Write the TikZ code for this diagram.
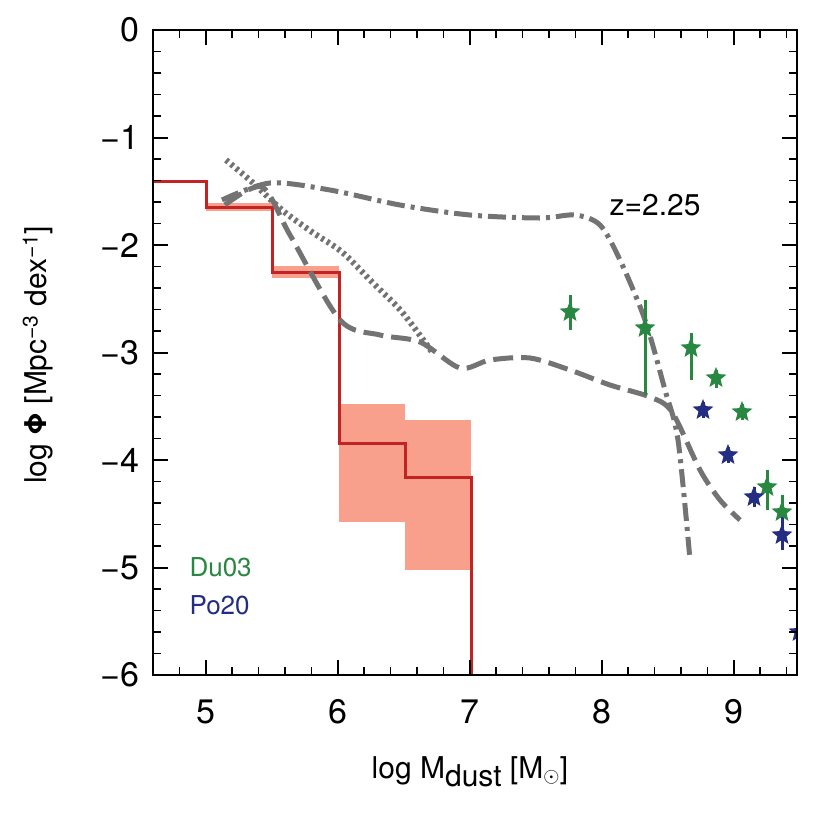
\documentclass[tikz,border=0pt]{standalone}
\usepackage{fontspec}
\setmainfont{TeX Gyre Heros}
\usetikzlibrary{shapes.geometric}
\definecolor{redc}{RGB}{195,35,35}
\definecolor{shadecol}{RGB}{248,160,140}
\definecolor{grn}{RGB}{40,135,65}
\definecolor{blu}{RGB}{35,45,130}
\definecolor{gry}{RGB}{115,115,115}
\tikzset{
 curve/.style={gry,line width=5pt},
 gst/.style={star,star points=5,star point ratio=2.3,fill=grn,inner sep=0pt,minimum size=22pt},
 bst/.style={star,star points=5,star point ratio=2.3,fill=blu,inner sep=0pt,minimum size=22pt},
 ge/.style={grn,line width=3pt},
 be/.style={blu,line width=3pt},
 tl/.style={font=\fontsize{34}{34}\selectfont}
}
\begin{document}
\begin{tikzpicture}[x=1pt,y=-1pt]
\useasboundingbox (0,0) rectangle (830,830);
\fill[white] (0,0) rectangle (830,830);
\fill[shadecol] (206,203) rectangle (272,211);
\fill[shadecol] (272,266) rectangle (339,278);
\fill[shadecol] (339,404) rectangle (405,522);
\fill[shadecol] (405,420) rectangle (471,570);
\draw[redc,line width=3pt] (153,181) -| (206,207) -| (272,272) -| (339,443) -| (405,477) -| (471,675);
\begin{scope}
\clip (153,30) rectangle (797,675);
\draw[curve,dash pattern=on 18pt off 6pt on 4pt off 6pt] plot[smooth] coordinates {(222,200)(270,183)(330,190)(400,205)(470,215)(540,218)(575,215)(600,225)(620,260)(645,320)(665,390)(678,440)(690,560)};
\draw[curve,dash pattern=on 20pt off 8pt] plot[smooth] coordinates {(225,205)(262,187)(290,235)(340,320)(380,335)(420,342)(460,368)(490,360)(530,358)(570,370)(610,385)(650,397)(672,412)(700,470)(720,500)(740,520)};
\draw[curve,line width=6pt,dash pattern=on 3pt off 3.5pt] plot[smooth] coordinates {(226,160)(252,182)(282,210)(312,232)(342,252)(372,282)(402,312)(432,352)};
\end{scope}
\node[font=\fontsize{30}{30}\selectfont,anchor=center] (z) at (655,205) {z=2.25};
\draw[ge] (570,295) -- (570,330); \draw[ge] (645,300) -- (645,395); \draw[ge] (691,333) -- (691,380);
\draw[ge] (716,370) -- (716,388); \draw[ge] (742,404) -- (742,420); \draw[ge] (767,470) -- (767,510); \draw[ge] (782,495) -- (782,530);
\draw[be] (703,402) -- (703,418); \draw[be] (728,447) -- (728,463); \draw[be] (754,487) -- (754,507); \draw[be] (782,515) -- (782,550);
\foreach \p/\n in {{(570,312)}/g1,{(645,328)}/g2,{(691,348)}/g3,{(716,378)}/g4,{(742,412)}/g5,{(767,487)}/g6,{(782,512)}/g7}
  \node[gst] (\n) at \p {};
\foreach \p/\n in {{(703,410)}/b1,{(728,455)}/b2,{(754,497)}/b3,{(782,535)}/b4}
  \node[bst] (\n) at \p {};
\begin{scope}\clip (153,30) rectangle (797,675); \node[bst] (b5) at (799,632) {}; \end{scope}
\draw[line width=2pt] (153,30) rectangle (797,675);
\foreach \m in {5,6,7,8,9}{
  \pgfmathsetmacro{\xx}{206+132*(\m-5)}
  \draw[line width=2pt] (\xx,675) -- (\xx,660) (\xx,30) -- (\xx,45);
  \node[tl] at (\xx,712) {\m};}
\foreach \i in {0,...,24}{
  \pgfmathsetmacro{\xx}{153+26.4*\i}
  \draw[line width=1.5pt] (\xx,675) -- (\xx,667) (\xx,30) -- (\xx,38);}
\foreach \v in {0,...,6}{
  \pgfmathsetmacro{\yy}{30+107.5*\v}
  \draw[line width=2pt] (153,\yy) -- (168,\yy) (797,\yy) -- (782,\yy);
  \node[tl,anchor=east] at (143,\yy) {\ifnum\v=0 0\else −\v\fi};}
\foreach \i in {0,...,30}{
  \pgfmathsetmacro{\yy}{30+21.5*\i}
  \draw[line width=1.5pt] (153,\yy) -- (161,\yy) (797,\yy) -- (789,\yy);}
\node[grn,font=\fontsize{26}{26}\selectfont,anchor=west] (du) at (186,567) {Du03};
\node[blu,font=\fontsize{26}{26}\selectfont,anchor=west] (po) at (186,605) {Po20};
\node[font=\fontsize{30}{30}\selectfont] (xl) at (470,772) {log M\raisebox{-8pt}{dust} [M$_\odot$]};
\node[font=\fontsize{30}{30}\selectfont,rotate=90] (yl) at (38,355) {log \textbf{Φ} [Mpc\textsuperscript{−3} dex\textsuperscript{−1}]};
\end{tikzpicture}
\end{document}
